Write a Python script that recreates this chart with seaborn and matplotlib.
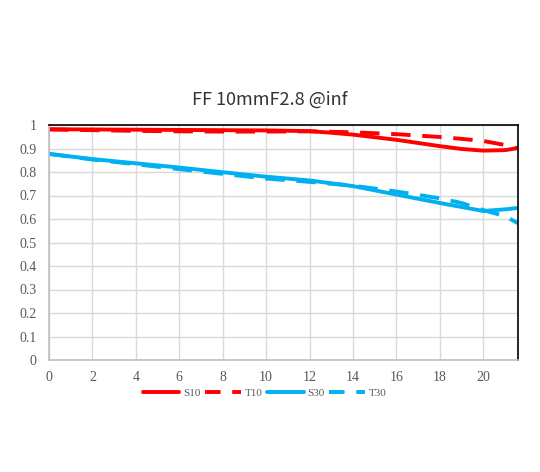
import pandas as pd
import numpy as np
import matplotlib
matplotlib.use('Agg')
import matplotlib.pyplot as plt
import seaborn as sns

# image height (mm) and MTF values
field = [0, 2, 4, 6, 8, 10, 12, 13, 14, 16, 18, 19, 20, 21, 21.6]
s10 = [0.982, 0.981, 0.980, 0.979, 0.978, 0.977, 0.974, 0.967, 0.959, 0.937, 0.910, 0.898, 0.891, 0.893, 0.902]
t10 = [0.981, 0.978, 0.975, 0.973, 0.972, 0.972, 0.973, 0.971, 0.969, 0.961, 0.949, 0.941, 0.932, 0.915, 0.900]
s30 = [0.877, 0.855, 0.837, 0.819, 0.799, 0.780, 0.764, 0.752, 0.740, 0.704, 0.668, 0.651, 0.634, 0.641, 0.647]
t30 = [0.877, 0.853, 0.833, 0.812, 0.792, 0.772, 0.758, 0.750, 0.742, 0.717, 0.688, 0.668, 0.638, 0.612, 0.582]
series_names = ['S10', 'T10', 'S30', 'T30']

xticks = list(range(0, 21, 2))
yticks = [round(v * 0.1, 1) for v in range(0, 11)]
ytick_labels = ['0'] + ['0.%d' % i for i in range(1, 10)] + ['1']

red = '#FF0000'
blue = '#00B0F0'

df = pd.DataFrame({
    'field': field * 4,
    'mtf': s10 + t10 + s30 + t30,
    'series': [n for n in series_names for _ in field],
})

sns.set_style('white')
plt.rcParams['font.family'] = ['Liberation Serif', 'DejaVu Serif']

fig = plt.figure(figsize=(5.4, 4.72), dpi=100)
ax = fig.add_axes([49 / 540, 1 - 360 / 472, (518 - 49) / 540, (360 - 125) / 472])

palette = {'S10': red, 'T10': red, 'S30': blue, 'T30': blue}
dashes = {'S10': '', 'T10': (5, 3), 'S30': '', 'T30': (5, 3)}
sns.lineplot(data=df, x='field', y='mtf', hue='series', style='series',
             palette=palette, dashes=dashes, linewidth=2.8, ax=ax, legend=False)

ax.set_xlim(0, 21.6)
ax.set_ylim(0, 1)
ax.set_xticks(xticks)
ax.set_xticklabels([str(v) for v in xticks])
ax.set_yticks(yticks)
ax.set_yticklabels(ytick_labels)
ax.grid(True, color='#d9d9d9', linewidth=1)
ax.set_axisbelow(True)
ax.tick_params(axis='both', length=0, labelsize=10, labelcolor='#595959')
ax.tick_params(axis='x', pad=8)
ax.tick_params(axis='y', pad=9)
ax.set_xlabel('')
ax.set_ylabel('')

ax.spines['left'].set_color('#bfbfbf')
ax.spines['bottom'].set_color('#bfbfbf')
ax.spines['top'].set_color('black')
ax.spines['right'].set_color('black')
for s in ax.spines.values():
    s.set_linewidth(1.2)

fig.text(0.5, 1 - 100 / 472, 'FF 10mmF2.8 @inf', ha='center', va='center',
         fontsize=13, color='#333333', family=['Noto Sans CJK SC', 'DejaVu Sans'])

handles = []
for n in series_names:
    h = plt.Line2D([], [], color=palette[n], linewidth=2.8)
    if dashes[n]:
        h.set_dashes((4, 3))
    handles.append(h)
fig.legend(handles, series_names, loc='center', bbox_to_anchor=(0.49, 1 - 393 / 472),
           ncol=4, frameon=False, fontsize=8, handlelength=3.3, handletextpad=0.3,
           columnspacing=0.4, labelcolor='#595959')

fig.savefig('out.png', dpi=100)
